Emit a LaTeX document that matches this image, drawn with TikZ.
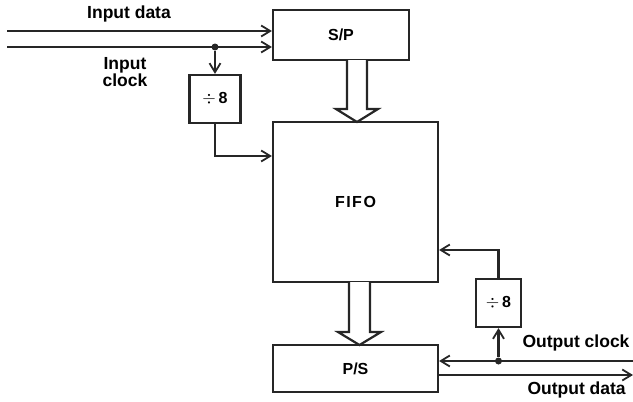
\documentclass[tikz,border=0pt]{standalone}
\usepackage{fontspec}
\setmainfont{Liberation Sans}
\usetikzlibrary{arrows.meta}
\begin{document}
\begin{tikzpicture}[x=1pt,y=-1pt,
  wire/.style={line width=2.2pt,draw=black!85},
  arr/.style={wire,-{Straight Barb[length=9pt,width=11pt,line width=1.8pt]}},
  blk/.style={draw=black!85,line width=2.2pt,inner sep=0pt},
  lbl/.style={font=\fontsize{17.5}{19}\selectfont\bfseries,align=center},
  btxt/.style={font=\fontsize{16}{18}\selectfont\bfseries},
  dot/.style={circle,fill=black!85,inner sep=0pt,minimum size=7pt}]
\useasboundingbox (0,0) rectangle (633,402);
% boxes
\node[blk,minimum width=136pt,minimum height=50pt,btxt] (sp) at (341,35) {S/P};
\node[blk,minimum width=165pt,minimum height=160pt,btxt] (fifo) at (355.5,202) {F\hspace{1.5pt}I\hspace{1.5pt}F\hspace{1.5pt}O};
\node[blk,minimum width=165pt,minimum height=47pt,btxt] (ps) at (355.5,368.5) {P/S};
\node[blk,minimum width=51pt,minimum height=48pt,btxt] (d1) at (215,99) {$\div$\,8};
\node[blk,minimum width=45pt,minimum height=48pt,btxt] (d2) at (498.5,303) {$\div$\,8};
% inputs
\coordinate (inD) at (7,31);
\coordinate (inC) at (7,47);
\draw[arr] (inD) -- (inD -| sp.west);
\draw[arr] (inC) -- (inC -| sp.west);
\node[dot] (j1) at (215,47) {};
\draw[arr] (j1) -- (d1.north);
\coordinate (c1) at (215,156);
\draw[arr] (d1.south) -- (c1) -- (c1 -| fifo.west);
% outputs
\coordinate (outC) at (633,361);
\coordinate (outD) at (633,375);
\draw[arr] (outC) -- (outC -| ps.east);
\draw[arr] (ps.east |- outD) -- (outD);
\node[dot] (j2) at (498.5,361) {};
\draw[arr] (j2) -- (d2.south);
\coordinate (c2) at (498.5,250);
\draw[arr] (d2.north) -- (c2) -- (c2 -| fifo.east);
% hollow arrows
\draw[wire,line join=miter,fill=white] (347,60) -- (347,109) -- (336,109) -- (357,122) -- (378,109) -- (367,109) -- (367,60);
\draw[wire,line join=miter,fill=white] (349,282) -- (349,332) -- (338,332) -- (359.5,345) -- (381,332) -- (370,332) -- (370,282);
% labels
\node[lbl] (l1) at (129,14) {Input data};
\node[lbl] (l2) at (125,72) {Input\\[-2pt]clock};
\node[lbl,anchor=west] (l3) at (519,343) {Output clock};
\node[lbl,anchor=west] (l4) at (524,390) {Output data};
\end{tikzpicture}
\end{document}
